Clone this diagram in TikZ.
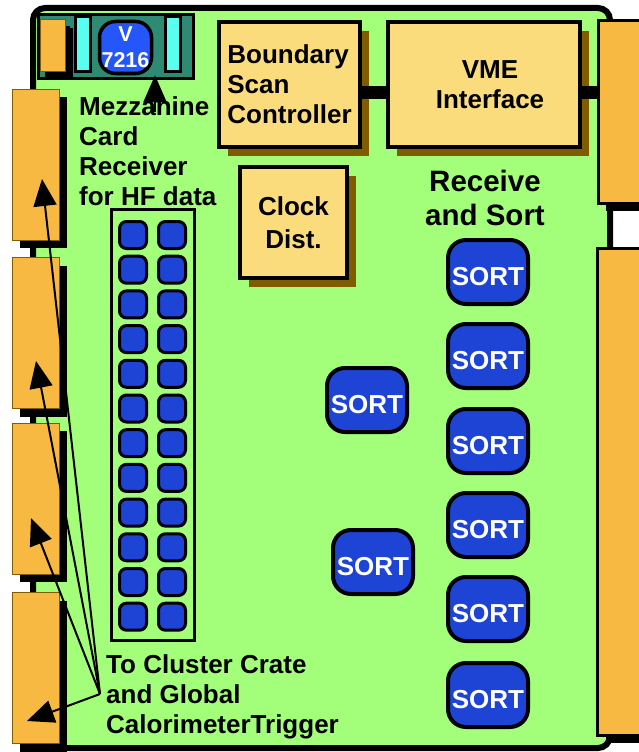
\documentclass[tikz,border=0pt]{standalone}
\usepackage{fontspec}
\setmainfont{Liberation Sans}
\usepackage{tikz}
\usetikzlibrary{arrows.meta,positioning,shadows,calc}

\definecolor{boardgreen}{RGB}{163,254,122}
\definecolor{chipyellow}{RGB}{251,220,125}
\definecolor{shadowbrown}{RGB}{128,92,0}
\definecolor{connorange}{RGB}{247,185,66}
\definecolor{sortblue}{RGB}{30,68,214}
\definecolor{vblue}{RGB}{36,86,250}
\definecolor{mezzteal}{RGB}{46,138,115}
\definecolor{padcyan}{RGB}{88,255,238}

\newcommand{\sortlabel}{\raisebox{-4pt}[\height][0pt]{SORT}}

\tikzset{
  lbl/.style={font=\fontsize{26}{30}\selectfont\bfseries, inner sep=0pt},
  ctrlbox/.style={draw=black, line width=4pt, fill=chipyellow, inner sep=0pt,
    font=\fontsize{26}{30}\selectfont\bfseries,
    drop shadow={shadow xshift=9pt, shadow yshift=-9pt, fill=shadowbrown, opacity=1}},
  conn/.style={draw=shadowbrown, line width=1pt, fill=connorange, inner sep=0pt,
    drop shadow={shadow xshift=8pt, shadow yshift=-8pt, fill=black, opacity=1}},
  sortchip/.style={draw=black, line width=4pt, fill=sortblue, rounded corners=18pt,
    minimum width=80pt, minimum height=64pt, inner sep=0pt, text=white,
    font=\fontsize{26}{30}\selectfont\bfseries},
  pad/.style={draw=black, line width=3pt, fill=sortblue, rounded corners=7pt,
    minimum size=27pt, inner sep=0pt},
  cyanbar/.style={draw=black, line width=3pt, fill=padcyan, minimum width=15pt,
    minimum height=55pt, inner sep=0pt},
  bigarrow/.style={-{Triangle[length=27pt,width=23pt]}, line width=2pt},
  bus/.style={line width=13pt}
}

\begin{document}
\begin{tikzpicture}[x=1pt,y=-1pt]
  \useasboundingbox (0,0) rectangle (638,752);

  % board
  \draw[line width=6pt, fill=boardgreen, rounded corners=12pt] (33,8) rectangle (610,748);

  % mezzanine card
  \node[draw=black, line width=3pt, fill=mezzteal, minimum width=155pt, minimum height=64pt,
    inner sep=0pt] (mezz) at (116,46.5) {};
  \node[conn, minimum width=25pt, minimum height=52pt, drop shadow={shadow xshift=5pt,
    shadow yshift=-6pt, fill=black, opacity=1}] (mzconn) at (52.5,46) {};
  \node[cyanbar] (cyana) at (83,44.5) {};
  \node[cyanbar] (cyanb) at (173,44.5) {};
  \node[draw=black, line width=3.5pt, fill=vblue, rounded corners=16pt, minimum width=52pt,
    minimum height=52pt, inner sep=0pt, text=white, align=center,
    font=\fontsize{21.5}{26}\selectfont\bfseries] (v7216) at (125.5,47.5) {V\\7216};

  % side connectors
  \foreach \y [count=\i] in {164.5,333,498.5,668}
    \node[conn, minimum width=47pt, minimum height=151pt] (lconn\i) at (35.5,\y) {};
  \node[conn, draw=black, line width=3pt, minimum width=62pt, minimum height=182pt] (rconna) at (629,112) {};
  \node[conn, draw=black, line width=3pt, minimum width=62pt, minimum height=487pt] (rconnb) at (628.5,491.5) {};

  % control blocks
  \node[ctrlbox, minimum width=141pt, minimum height=125pt, align=left] (bsc) at (289.5,84.5)
    {Boundary\\Scan\\Controller};
  \node[ctrlbox, minimum width=192pt, minimum height=125pt, align=center] (vme) at (484,84.5)
    {\hspace*{12pt}VME\\\hspace*{12pt}Interface};
  \node[ctrlbox, minimum width=107pt, minimum height=111pt, align=center,
    font=\fontsize{26}{33}\selectfont\bfseries] (clk) at (293.5,222.5) {Clock\\Dist.};
  \draw[bus] ($(bsc.east)+(0,8)$) -- ($(vme.west)+(0,8)$);
  \draw[bus] ($(vme.east)+(0,8)$) -- ($(rconna.west |- vme.east)+(0,8)$);

  % HF receiver pads
  \node[draw=black, line width=3pt, minimum width=83pt, minimum height=431pt, inner sep=0pt]
    (padframe) at (153,425) {};
  \foreach \r in {0,...,11}
    \foreach \c in {133,172}
      \node[pad] (pad-\r-\c) at (\c,235+34.7*\r) {};

  % sort chips
  \foreach \y [count=\i] in {272,356,441,525,609,695}
    \node[sortchip] (sorta\i) at (488,\y) {\sortlabel};
  \node[sortchip] (sortb1) at (367,400) {\sortlabel};
  \node[sortchip] (sortb2) at (373,562) {\sortlabel};

  % labels
  \node[lbl, anchor=west, align=left] (mzlabel) at (79,151)
    {Mezzanine\\Card\\Receiver\\for HF data};
  \node[lbl, align=center, font=\fontsize{29.5}{34}\selectfont\bfseries] (rslabel) at (485,198)
    {Receive\\and Sort};
  \node[lbl, anchor=west, align=left] (gctlabel) at (106,697)
    {To Cluster Crate\\and Global\\CalorimeterTrigger};

  % arrows
  \coordinate (mztail) at (155,112);
  \draw[bigarrow] (mztail) -- (mztail |- v7216.south);
  \coordinate (fan) at (100,694);
  \coordinate (tipa) at (42,179);
  \coordinate (tipb) at (36,361);
  \coordinate (tipc) at (31,518);
  \coordinate (tipd) at (27,721);
  \foreach \t in {tipa,tipb,tipc,tipd}
    \draw[bigarrow] (fan) -- (\t);
\end{tikzpicture}
\end{document}
